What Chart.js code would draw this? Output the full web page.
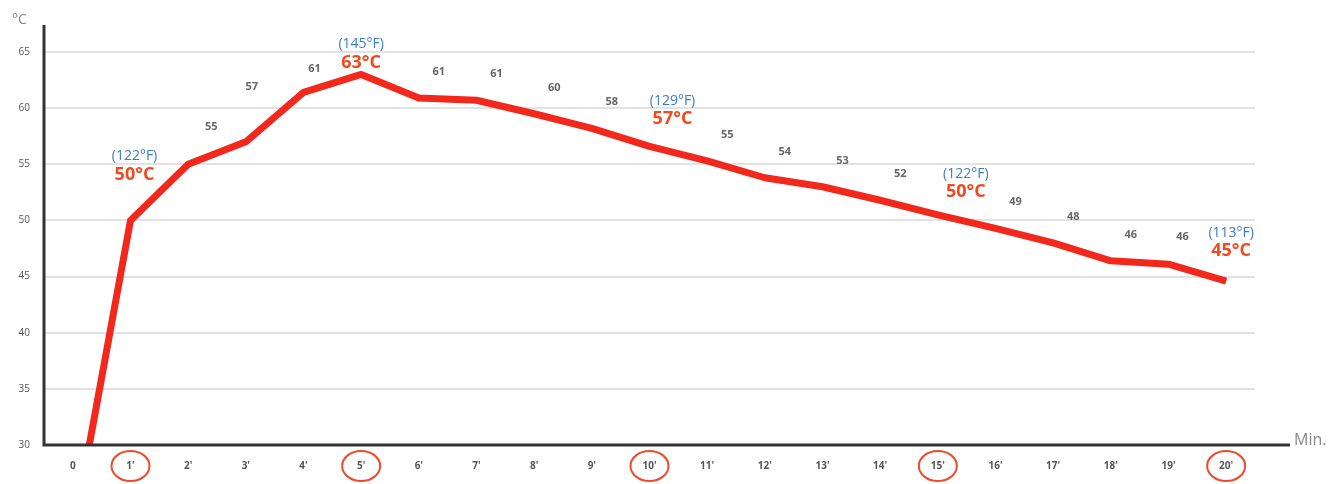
<!DOCTYPE html>
<html>
<head>
<meta charset="utf-8">
<script src="https://cdn.jsdelivr.net/npm/chart.js@4/dist/chart.umd.min.js"></script>
<style>
html, body { margin: 0; padding: 0; background: #fff; }
#wrap { width: 1334px; height: 484px; }
</style>
</head>
<body>
<div id="wrap"><canvas id="c" width="1334" height="484"></canvas></div>
<script>
// data
var minutes = ["0", "1'", "2'", "3'", "4'", "5'", "6'", "7'", "8'", "9'", "10'", "11'", "12'", "13'", "14'", "15'", "16'", "17'", "18'", "19'", "20'"];
var tempC = [22, 50, 55, 57, 61.4, 63, 60.9, 60.7, 59.5, 58.2, 56.6, 55.3, 53.8, 53, 51.8, 50.5, 49.3, 48, 46.4, 46.1, 44.6];
var valueLabels = ["", "", "55", "57", "61", "", "61", "61", "60", "58", "", "55", "54", "53", "52", "", "49", "48", "46", "46", ""];
var yTicks = [30, 35, 40, 45, 50, 55, 60, 65];

var markedIdx = [1, 5, 10, 15, 20];
var markedF = ["(122°F)", "(145°F)", "(129°F)", "(122°F)", "(113°F)"];
var markedC = ["50°C", "63°C", "57°C", "50°C", "45°C"];

var FONT = "'Open Sans', 'DejaVu Sans', sans-serif";
var RED = "#f2281c";

// axis lines, unit labels, circles, value labels
var decoPlugin = {
	id: "deco",
	afterDatasetsDraw: function(chart, args, opts) {
		var ctx = chart.ctx;
		var a = chart.chartArea;
		var xs = chart.scales.x;
		var meta = chart.getDatasetMeta(0);

		ctx.save();

		// axes
		ctx.strokeStyle = "#333";
		ctx.lineWidth = 3;
		ctx.beginPath();
		ctx.moveTo(a.left, 25);
		ctx.lineTo(a.left, a.bottom);
		ctx.lineTo(a.right + 35, a.bottom);
		ctx.stroke();

		ctx.fillStyle = "#888";
		ctx.font = "16px " + FONT;
		ctx.textAlign = "left";
		ctx.textBaseline = "middle";
		ctx.fillText("Min.", a.right + 39, a.bottom - 5);
		ctx.font = "14px " + FONT;
		ctx.fillText("°C", 12, 20);

		// circles round marked minutes
		ctx.strokeStyle = "#ee4a2c";
		ctx.lineWidth = 2;
		for(var i = 0; i < markedIdx.length; i++) {
			var cx = xs.getPixelForValue(markedIdx[i]);
			ctx.beginPath();
			ctx.ellipse(cx, a.bottom + 21, 19, 15, 0, 0, Math.PI * 2);
			ctx.stroke();
		}

		// small grey values
		ctx.fillStyle = "#666";
		ctx.font = "bold 11px " + FONT;
		ctx.textAlign = "center";
		for(var i = 0; i < valueLabels.length; i++) {
			if(!valueLabels[i]) continue;
			var p = meta.data[i];
			var n = opts.valueNudge[i] || [20, -26];
			ctx.fillText(valueLabels[i], p.x + n[0], p.y + n[1]);
		}

		// F / C callouts
		for(var i = 0; i < markedIdx.length; i++) {
			var p = meta.data[markedIdx[i]];
			var o = opts.calloutNudge[i];
			ctx.fillStyle = "#3b7cc6";
			ctx.font = "14px " + FONT;
			ctx.fillText(markedF[i], p.x + o[0], p.y + o[1] - 18);
			ctx.fillStyle = "#f04a22";
			ctx.font = "bold 18px " + FONT;
			ctx.fillText(markedC[i], p.x + o[0], p.y + o[1]);
		}

		ctx.restore();
	}
};

new Chart(document.getElementById("c").getContext("2d"), {
	type: "line",
	data: {
		labels: minutes,
		datasets: [
			{
				data: tempC,
				borderColor: RED,
				borderWidth: 7,
				borderJoinStyle: "round",
				pointRadius: 0,
				tension: 0,
				fill: false
			}
		]
	},
	options: {
		responsive: false,
		animation: false,
		layout: { padding: { top: 52, right: 79, left: 0, bottom: 0 } },
		plugins: {
			legend: { display: false },
			tooltip: { enabled: false },
			deco: {
				// label placement relative to the line point (layout only)
				valueNudge: { 2: [23, -37], 3: [6, -55], 4: [11, -24], 19: [14, -27] },
				calloutNudge: [[4, -46], [0, -12], [23, -27], [28, -23], [5, -30]]
			}
		},
		scales: {
			x: {
				offset: true,
				afterFit: function(s) { s.height = 39; },
				grid: { display: false, drawTicks: false },
				border: { display: false },
				ticks: {
					padding: 15,
					maxRotation: 0,
					autoSkip: false,
					color: "#555",
					font: { family: FONT, size: 10, weight: "bold" }
				}
			},
			y: {
				min: 30,
				max: 65,
				afterFit: function(s) { s.width = 44; },
				afterBuildTicks: function(s) {
					s.ticks = yTicks.map(function(v) { return { value: v }; });
				},
				grid: { color: "#e2e2e2", lineWidth: 2, drawTicks: false },
				border: { display: false },
				ticks: {
					padding: 14,
					color: "#555",
					font: { family: FONT, size: 10 }
				}
			}
		}
	},
	plugins: [decoPlugin]
});
</script>
</body>
</html>
